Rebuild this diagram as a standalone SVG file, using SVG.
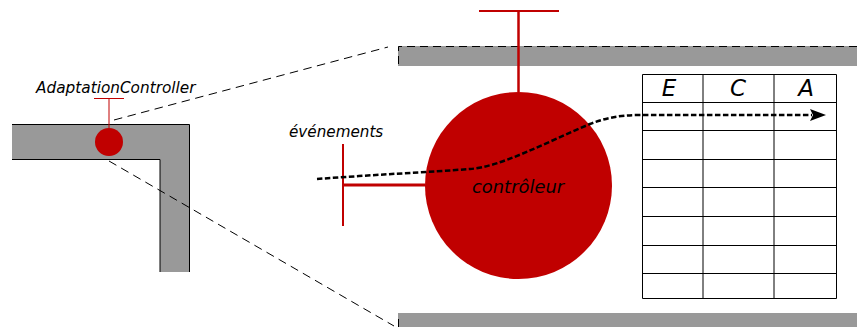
<svg xmlns="http://www.w3.org/2000/svg" width="857" height="327" viewBox="0 0 857 327">
<style>
.t{font-family:"DejaVu Sans",sans-serif;font-style:italic;fill:#000}
.g{fill:#999;stroke:none}
.k{stroke:#000;stroke-width:1;fill:none}
.r{stroke:#c00000;fill:none}
.d{stroke:#000;stroke-width:1;fill:none;stroke-dasharray:8.500 5.500}
</style>
<defs>
<marker id="arrow" markerWidth="18" markerHeight="14" refX="2" refY="7" orient="auto" markerUnits="userSpaceOnUse"><path d="M0 1L16 7L0 13L3 7Z" fill="#000"/></marker>
</defs>
<g id="wall-left">
<path class="g" d="M12 124.500H189.500V272H160V159.500H12Z"/>
<path class="k" d="M12 124.500H189.500V272M160 272V159.500H12"/>
</g>
<g id="wall-top">
<rect class="g" x="398" y="46" width="459" height="20"/>
<path class="k" stroke-dasharray="8 5" d="M857 46.500H398.500V66"/>
</g>
<g id="wall-bottom">
<rect class="g" x="398" y="313" width="459" height="14"/>
<path class="k" d="M398.500 319V327"/>
</g>
<g id="zoom-lines">
<path class="d" d="M114 120L388 47"/>
<path class="d" d="M109 161L394 326"/>
</g>
<g id="adaptation-controller">
<path class="r" stroke-width="1" d="M94 98.500H124M109 98.500V128"/>
<circle cx="109" cy="142" r="14" fill="#c00000"/>
<text class="t" x="36" y="93" font-size="15.300">AdaptationController</text>
</g>
<g id="table">
<path class="k" d="M642.500 74.500H836.500V298.500H642.500ZM703 74.500V298.500M774 74.500V298.500M642.500 102.500H836.500M642.500 130.500H836.500M642.500 159.500H836.500M642.500 187.500H836.500M642.500 216.500H836.500M642.500 245.500H836.500M642.500 273.500H836.500"/>
<text class="t" x="669" y="95.500" font-size="23" text-anchor="middle">E</text>
<text class="t" x="738" y="95.500" font-size="23" text-anchor="middle">C</text>
<text class="t" x="806" y="95.500" font-size="23" text-anchor="middle">A</text>
</g>
<g id="controleur">
<circle cx="518.500" cy="185.500" r="93.500" fill="#c00000"/>
<path class="r" stroke-width="2" d="M479 11H559"/>
<path class="r" stroke-width="2.500" d="M518.500 11V92"/>
<path class="r" stroke-width="2" d="M343 144V226"/>
<path class="r" stroke-width="2.800" d="M343 185H425"/>
<text class="t" x="472" y="193" font-size="17.900">contrôleur</text>
</g>
<g id="label-evenements">
<text class="t" x="289" y="137" font-size="15.200">événements</text>
</g>
<g id="connectors">
<path d="M317 179C370 175 430 172 470 169C500 167 545 143 590 124C605 118 620 115 640 115H812" fill="none" stroke="#000" stroke-width="2.500" stroke-dasharray="5.500 2.500" marker-end="url(#arrow)"/>
</g>
</svg>
